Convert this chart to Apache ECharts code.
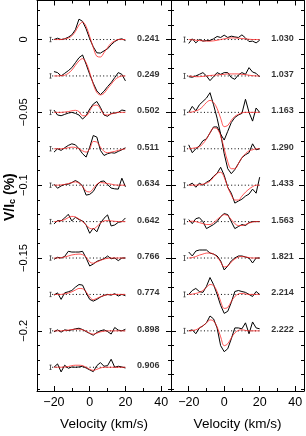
<!DOCTYPE html>
<html><head><meta charset="utf-8">
<script src="https://cdn.jsdelivr.net/npm/echarts@6/dist/echarts.min.js"></script>
<style>html,body{margin:0;padding:0;background:#fff}#c{width:306px;height:436px}</style>
</head><body><div id="c"></div>
<script>
// velocity grid (km/s)
const velocity = [-20,-18,-16,-14,-12,-10,-8,-6,-4,-2,0,2,4,6,8,10,12,14,16,18,20];
// vertical offsets of each profile (V/Ic %)
const offsets = [0,-0.025,-0.05,-0.075,-0.1,-0.125,-0.15,-0.175,-0.2,-0.225];
const leftPhases = ['0.241','0.249','0.502','0.511','0.634','0.642','0.766','0.774','0.898','0.906'];
const rightPhases = ['1.030','1.037','1.163','1.290','1.433','1.563','1.821','2.214','2.222'];
// error bar half heights (V/Ic %)
const leftErr = [0.0015,0.0015,0.0015,0.0015,0.0015,0.0015,0.0015,0.0015,0.0015,0.0015];
const rightErr = [0.0017,0.0017,0.0017,0.0017,0.0017,0.0017,0.0017,0.0017,0.0017];
// axis ticks
const xMajor = [-20,0,20,40];
const xMinor = [-20,-10,0,10,20,30,40];
const yLabels = [0,-0.05,-0.1,-0.15,-0.2];
const yMinor = [0.02,0.01,0,-0.01,-0.02,-0.03,-0.04,-0.05,-0.06,-0.07,-0.08,-0.09,-0.1,-0.11,-0.12,-0.13,-0.14,-0.15,-0.16,-0.17,-0.18,-0.19,-0.2,-0.21,-0.22,-0.23,-0.24];

// profiles: deviations from the offset, in units of 0.001 (V/Ic %)
const obs0241 = [0,0.9,0,0.5,1.6,3.2,6.8,14,12.5,7.3,0.5,-5.0,-9.1,-9.3,-7.8,-6.4,-3.6,-1.4,0,0.5,-0.7];
const mod0241 = [0,0,0,0.5,1,2.5,5.5,10,12,9,2,-5.5,-11.5,-12,-9,-5.5,-2.5,-1,0,0,0];
const obs0249 = [3,2.3,0,1.8,3.6,5.7,9.1,12.5,14.4,8,1.1,-5,-10.3,-12.8,-10.5,-7.3,-4.6,-1.1,2.3,1.1,-3.4];
const mod0249 = [0,0,0.2,0.5,1.8,4,7.3,10.3,11.9,9.1,2.3,-5.7,-11.4,-13,-11.9,-8.7,-5.7,-2.7,-0.9,0,0];
const obs0502 = [1.6,-1.8,-2.3,-1.4,-0.5,0,-0.7,-1.8,-4.6,-2.3,2.3,5.7,7.5,3.4,-1.8,-2.7,-0.7,-0.5,0,1.6,1.1];
const mod0502 = [0,0,0,0.2,0.5,1.1,1.4,0.5,-2.3,-2.3,1.1,4.6,5,2.3,-1.4,-1.8,-1.1,-0.5,0,0,0];
const obs0511 = [-2.3,0,-1.1,0.7,2.3,3.4,2.7,0,-3.4,-5.7,1.1,9.1,8,-1.1,-4.6,-3.4,-2.7,-3,-1.8,-0.7,0.7];
const mod0511 = [0,0,0,0.2,0.7,1.1,0.9,0,-1.4,-2.3,0,5,4.6,1.1,-1.8,-2.7,-2.3,-1.8,-1.1,-0.5,0];
const obs0634 = [0.7,-2.1,-0.5,0.5,0.7,1.8,3.2,1.8,-0.5,-6.8,-6.3,-4.3,0,2.5,2.9,0.5,-2,-2.5,-2.7,4.8,-1.1];
const mod0634 = [0,0,0.2,0.5,1.1,1.8,2.3,1.4,-0.9,-4.1,-4.6,-2.3,0.7,1.8,1.6,1.1,0.7,0.2,0,0,0];
const obs0642 = [-1.6,0.7,0.5,2.5,5,0.5,3,1.4,0.5,-2.3,-8,-4.5,-7,-1.1,2.3,4.6,-3,-2.3,-0.5,0,2.5];
const mod0642 = [0,0.2,0.7,1.4,2.7,3.6,3.2,1.8,0,-2.3,-4.6,-5,-3.4,-1.1,0.5,0.7,0.5,0.2,0,0,0];
const obs0766 = [-0.9,0.5,0,1.1,4.6,4.1,4.1,4.1,4.6,0,-5.5,-4.1,-2.3,-1.4,-0.5,1.4,-0.5,0,-1.8,0,0];
const mod0766 = [0,0,0.2,0.7,1.4,2.1,2.5,2.7,2.3,0.7,-2.7,-3.6,-2.7,-1.6,-0.7,-0.2,0,0,0,0,0];
const obs0774 = [-0.5,1.1,-3.4,1.1,1.8,2.7,5,6.8,6.4,1.1,-3.4,-4.6,-3.4,-1.8,-0.7,0,-0.5,0.5,-1.1,0,-0.9];
const mod0774 = [0,0,0,0.5,0.9,1.8,3,4.1,3.9,1.8,-1.8,-3.6,-2.7,-1.6,-0.7,-0.2,0,0,0,0,0];
const obs0898 = [-0.7,0.7,-0.9,0.7,0.2,0.7,1.4,1.8,0.9,-0.5,-1.8,-3,-1.1,0,0.7,-0.5,-2.2,2.3,0.5,0,1.1];
const mod0898 = [0,0,0,0.2,0.5,0.9,1.1,1.1,0.7,-0.2,-1.6,-2.3,-1.6,-0.7,-0.2,0,0,0,0,0,0];
const obs0906 = [0,2.3,-3.2,1.4,-0.7,0.2,0,0.2,0.7,-0.5,-1.8,-3,1.1,3.2,0.7,1.1,5.5,0,0.7,0.2,-0.5];
const mod0906 = [0,0,0,0.2,0.5,1.1,1.4,1.4,1.1,0,-1.4,-2.1,-1.4,-0.5,0,0,0,0,0,0,0];

const obs1030 = [-2.7,0.5,-2.3,0,-1.1,-0.7,-0.7,0.5,2.1,1.4,3,1.4,2.3,1.8,1.4,3.2,1.1,-1.4,-1.1,-2.3,-0.5];
const mod1030 = [0,-0.2,-0.5,-0.7,-0.9,-1.1,-1.1,-0.9,-0.5,0,0.5,0.9,1.1,1.1,0.9,0.7,0.5,0.2,0,0,0];
const obs1037 = [-0.5,-0.9,0,1.1,2.3,0,-3.2,-0.5,2.3,1.1,2.3,2.3,-1.1,-2.3,0.7,2.3,1.1,5.7,2.7,1.8,-0.7];
const mod1037 = [0,-0.3,-0.5,-0.5,-0.3,0,0.3,0.5,0.7,0.9,1.1,1.4,1.4,1.4,1.4,1.1,0.9,0.5,0.2,0,0];
const obs1163 = [0,4.1,1.1,5.2,7.5,9.8,13.5,5.2,-4,-15,-19,-13,-7,-3.5,-1.8,-0.7,9,0,-6,3,0];
const mod1163 = [0,0.3,1,2,4.1,6.8,8.2,6.8,2.7,-4.1,-9.8,-9,-5.5,-2.7,-1.4,-0.3,0,0,0,0,0];
const obs1290 = [2.7,-2.7,0,2,5.5,6.8,10.9,15,15,10.2,-3.4,-13.7,-17.1,-14.3,-10.2,-6.1,-4.1,-2.7,3.4,-0.7,0];
const mod1290 = [0,0.3,0.7,1.4,3.4,6.8,10.9,14.3,13.7,8.9,0,-8.9,-13.7,-13.7,-10.2,-6.1,-3.4,-1.4,-0.7,0,0];
const obs1433 = [0,1.4,-1.4,1.4,0,2,3.4,6.1,8.2,12.3,6.8,-1.4,-5.5,-12.3,-10.9,-9.6,-7.5,-6.1,-2.7,-5.5,5.5];
const mod1433 = [0,0,0,0.3,0.7,1.4,2.7,5.5,8.2,8.9,5.5,-1.4,-6.8,-10.2,-10.2,-7.5,-4.8,-2.7,-1,0,0];
const obs1563 = [1.4,-1.4,2,2.7,0,-4.8,-3.4,-2,0,3.4,5.5,4.8,0,-4.8,-3.4,-2,-2.7,-0.7,0,0,0];
const mod1563 = [0,0.3,0,-0.7,-1.4,-2,-2,-0.7,1.4,3.4,4.8,4.1,1.4,-1.4,-2.7,-2.7,-2,-1,-0.3,0,0];
const obs1821 = [4.1,1.4,4.8,5.5,5.5,5.5,3.4,2.7,1.4,-2,-8.2,-5.5,-2,0,1.4,1.4,0.7,0,-3.4,0,0];
const mod1821 = [0,0.3,1,2,2.7,3.4,3.4,2.7,0.7,-2.7,-6.1,-5.5,-2.7,-0.7,0.7,1,0.7,0.3,0,0,0];
const obs2214 = [0,2.7,4.1,2,1.4,5.5,11.6,6.8,0,-7.5,-13,-11.6,-5.5,2,2.7,2,1.4,0,-1.4,2,0];
const mod2214 = [0,0.2,0.7,1.4,2.7,4.8,6.8,6.1,2,-4.8,-9.6,-8.9,-4.8,-1.4,0.3,0.7,0.3,0,0,0,0];
const obs2222 = [0,0.7,-2,2,3.4,5.5,10.2,8.2,2,-10.2,-14.3,-12.3,-5.5,2,2,1.4,5.5,-2,6.1,2,1.4];
const mod2222 = [0,0.3,0.7,2,3.4,5.5,7.5,6.8,2.7,-4.1,-10.2,-8.9,-4.8,-1.4,0.3,0.7,0.3,0,0,0,0];

const leftObs = [obs0241,obs0249,obs0502,obs0511,obs0634,obs0642,obs0766,obs0774,obs0898,obs0906];
const leftMod = [mod0241,mod0249,mod0502,mod0511,mod0634,mod0642,mod0766,mod0774,mod0898,mod0906];
const rightObs = [obs1030,obs1037,obs1163,obs1290,obs1433,obs1563,obs1821,obs2214,obs2222];
const rightMod = [mod1030,mod1037,mod1163,mod1290,mod1433,mod1563,mod1821,mod2214,mod2222];

const FONT = 'Liberation Sans, Arial, Helvetica, sans-serif';
const yMin = -0.2413, yMax = 0.0268;
const xFmt = v => v < 0 ? '\u2212' + Math.abs(v) : String(v);
const yFmt = v => { const r = Math.round(v * 100) / 100; return r === 0 ? '0' : (r < 0 ? '\u2212' : '') + Math.abs(r); };

const grids = [
  {left: 37, top: 0.5, width: 134, height: 392.5},
  {left: 171, top: 0.5, width: 133, height: 392.5}
];
const xRanges = [[-29.5, 45.5], [-30, 45]];

const xAxes = [], yAxes = [];
grids.forEach((g, gi) => {
  const [mn, mx] = xRanges[gi];
  const base = {gridIndex: gi, type: 'value', min: mn, max: mx, splitLine: {show: false}};
  const line = {show: true, onZero: false, lineStyle: {color: '#000', width: 1}};
  const noLine = {show: false, onZero: false};
  xAxes.push(Object.assign({}, base, {position: 'bottom', axisLine: line,
    axisTick: {inside: true, length: 5, customValues: xMajor, lineStyle: {color: '#000'}},
    axisLabel: {customValues: xMajor, formatter: xFmt, color: '#000', fontSize: 12.5, margin: 5, fontFamily: FONT},
    name: 'Velocity (km/s)', nameLocation: 'middle', nameGap: 26,
    nameTextStyle: {color: '#000', fontSize: 13.5, fontFamily: FONT}}));
  xAxes.push(Object.assign({}, base, {position: 'bottom', axisLine: noLine,
    axisTick: {inside: true, length: 3, customValues: xMinor, lineStyle: {color: '#000'}}, axisLabel: {show: false}}));
  xAxes.push(Object.assign({}, base, {position: 'top', axisLine: line,
    axisTick: {inside: true, length: 5, customValues: xMajor, lineStyle: {color: '#000'}}, axisLabel: {show: false}}));
  xAxes.push(Object.assign({}, base, {position: 'top', axisLine: noLine,
    axisTick: {inside: true, length: 3, customValues: xMinor, lineStyle: {color: '#000'}}, axisLabel: {show: false}}));

  const yb = {gridIndex: gi, type: 'value', min: yMin, max: yMax, splitLine: {show: false}};
  yAxes.push(Object.assign({}, yb, {position: 'left', axisLine: line,
    axisTick: {inside: true, length: 5, customValues: yLabels, lineStyle: {color: '#000'}},
    axisLabel: gi === 0 ? {customValues: yLabels, formatter: yFmt, rotate: 90, color: '#000', fontSize: 11, margin: 8, fontFamily: FONT} : {show: false}}));
  yAxes.push(Object.assign({}, yb, {position: 'left', axisLine: noLine,
    axisTick: {inside: true, length: 3, customValues: yMinor, lineStyle: {color: '#000'}}, axisLabel: {show: false}}));
  yAxes.push(Object.assign({}, yb, {position: 'right', axisLine: line,
    axisTick: {inside: true, length: 5, customValues: yLabels, lineStyle: {color: '#000'}}, axisLabel: {show: false}}));
  yAxes.push(Object.assign({}, yb, {position: 'right', axisLine: noLine,
    axisTick: {inside: true, length: 3, customValues: yMinor, lineStyle: {color: '#000'}}, axisLabel: {show: false}}));
});

const series = [];
function panel(gi, obsList, modList, phases, errs) {
  const ax = gi * 4;
  // dotted baselines and error bars
  series.push({
    type: 'custom', xAxisIndex: ax, yAxisIndex: ax, silent: true, z: 1,
    data: phases.map((p, i) => [offsets[i], errs[i]]),
    renderItem: (params, api) => {
      const off = api.value(0), err = api.value(1);
      const a = api.coord([-21, off]), b = api.coord([20.6, off]);
      const t = api.coord([-22.5, off + err]), bt = api.coord([-22.5, off - err]);
      const x = Math.round(t[0]) + 0.5;
      return {type: 'group', children: [
        {type: 'line', shape: {x1: a[0], y1: a[1], x2: b[0], y2: b[1]}, style: {stroke: '#000', lineWidth: 1, lineDash: [1, 2.4]}},
        {type: 'line', shape: {x1: x, y1: t[1], x2: x, y2: bt[1]}, style: {stroke: '#333', lineWidth: 0.8}},
        {type: 'line', shape: {x1: x - 1, y1: t[1], x2: x + 1, y2: t[1]}, style: {stroke: '#333', lineWidth: 0.8}},
        {type: 'line', shape: {x1: x - 1, y1: bt[1], x2: x + 1, y2: bt[1]}, style: {stroke: '#333', lineWidth: 0.8}}
      ]};
    }
  });
  obsList.forEach((arr, i) => {
    series.push({type: 'line', xAxisIndex: ax, yAxisIndex: ax, symbol: 'none', z: 3, silent: true,
      lineStyle: {color: '#000', width: 1}, data: velocity.map((v, k) => [v, offsets[i] + arr[k] / 1000])});
  });
  modList.forEach((arr, i) => {
    series.push({type: 'line', xAxisIndex: ax, yAxisIndex: ax, symbol: 'none', z: 4, silent: true, smooth: 0.35,
      lineStyle: {color: '#ff2a2a', width: 0.8}, data: velocity.map((v, k) => [v, offsets[i] + arr[k] / 1000])});
  });
  series.push({type: 'scatter', xAxisIndex: ax, yAxisIndex: ax, symbolSize: 0, silent: true, z: 5,
    data: phases.map((p, i) => ({value: [26.5, offsets[i]], name: p})),
    label: {show: true, position: 'inside', align: 'left', verticalAlign: 'middle', offset: [0, -1.5],
      formatter: pr => pr.name, color: '#000', fontSize: 9, fontWeight: 'bold', fontFamily: FONT}});
}
panel(0, leftObs, leftMod, leftPhases, leftErr);
panel(1, rightObs, rightMod, rightPhases, rightErr);

const chart = echarts.init(document.getElementById('c'), null, {renderer: 'canvas'});
chart.setOption({
  animation: false, backgroundColor: '#fff', grid: grids, xAxis: xAxes, yAxis: yAxes, series: series,
  graphic: [{
    type: 'text', x: 1, y: 221, rotation: Math.PI / 2, silent: true,
    style: {text: '{a|V/I}{b|c}{a| (%)}', fill: '#000',
      rich: {a: {fontSize: 14, fontWeight: 'bold', fontFamily: FONT, fill: '#000', verticalAlign: 'bottom', lineHeight: 16},
             b: {fontSize: 9, fontWeight: 'bold', fontFamily: FONT, fill: '#000', verticalAlign: 'bottom', lineHeight: 8}}}
  }]
});
</script></body></html>
